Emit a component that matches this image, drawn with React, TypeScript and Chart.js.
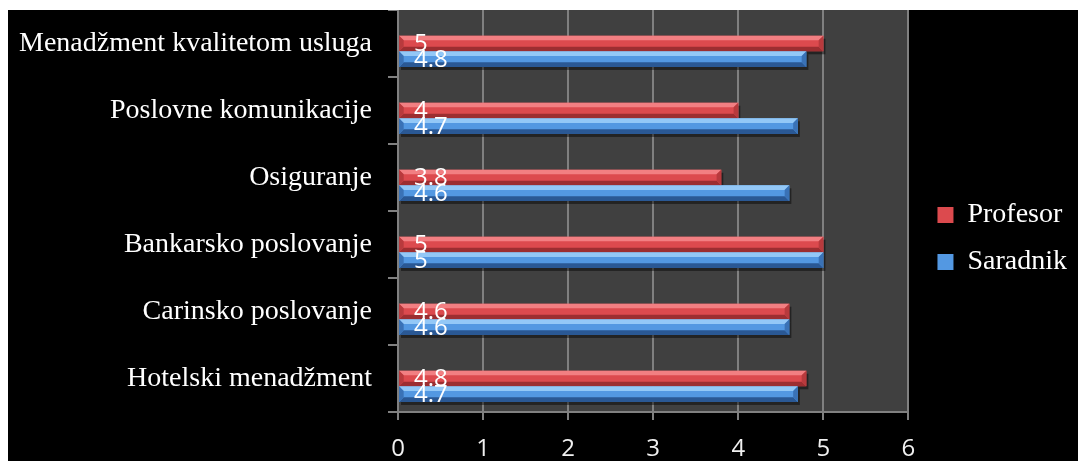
import React, { useEffect, useRef } from 'react';
import { Chart, registerables } from 'chart.js';

Chart.register(...registerables);

const categories = [
  'Menadžment kvalitetom usluga',
  'Poslovne komunikacije',
  'Osiguranje',
  'Bankarsko poslovanje',
  'Carinsko poslovanje',
  'Hotelski menadžment',
];
const seriesNames = ['Profesor', 'Saradnik'];
const profesorValues = [5, 4, 3.8, 5, 4.6, 4.8];
const saradnikValues = [4.8, 4.7, 4.6, 5, 4.6, 4.7];
const xTickValues = [0, 1, 2, 3, 4, 5, 6];

const redPalette = { face: '#DC4A4E', light: '#F27F82', dark: '#9C2E31', side: '#B83A3D' };
const bluePalette = { face: '#5398E2', light: '#93C8F7', dark: '#2A5894', side: '#3A72B6' };

const SERIF = '"Liberation Serif", "Times New Roman", serif';
const SANS = '"Open Sans", "Liberation Sans", sans-serif';

function poly(ctx: CanvasRenderingContext2D, pts: number[][], color: string) {
  ctx.beginPath();
  ctx.moveTo(pts[0][0], pts[0][1]);
  for (let i = 1; i < pts.length; i++) ctx.lineTo(pts[i][0], pts[i][1]);
  ctx.closePath();
  ctx.fillStyle = color;
  ctx.fill();
}

function barBox(el: any) {
  const { x, y, base, height } = el.getProps(['x', 'y', 'base', 'height'], true);
  return { l: Math.min(x, base), r: Math.max(x, base), t: y - height / 2, b: y + height / 2, y, base, height };
}

const plotBg = {
  id: 'plotBg',
  beforeDraw(chart: any) {
    const { ctx, chartArea: a } = chart;
    ctx.save();
    ctx.fillStyle = '#404040';
    ctx.fillRect(a.left, a.top, a.right - a.left, a.bottom - a.top);
    ctx.restore();
  },
};

const bevelBars = {
  id: 'bevelBars',
  beforeDatasetsDraw(chart: any) {
    const ctx = chart.ctx;
    ctx.save();
    chart.data.datasets.forEach((ds: any, di: number) => {
      if (!ds.palette) return;
      chart.getDatasetMeta(di).data.forEach((el: any, i: number) => {
        if (ds.data[i] == null) return;
        const { l, r, t, b } = barBox(el);
        ctx.fillStyle = 'rgba(0,0,0,0.45)';
        ctx.fillRect(l + 2, t + 3, r - l, b - t);
      });
    });
    ctx.restore();
  },
  afterDatasetsDraw(chart: any) {
    const ctx = chart.ctx;
    ctx.save();
    chart.data.datasets.forEach((ds: any, di: number) => {
      const pal = ds.palette;
      if (!pal) return;
      chart.getDatasetMeta(di).data.forEach((el: any, i: number) => {
        if (ds.data[i] == null) return;
        const { l, r, t, b, height } = barBox(el);
        const bw = Math.min(height * 0.3, (r - l) / 2);
        poly(ctx, [[l, t], [r, t], [r - bw, t + bw], [l + bw, t + bw]], pal.light);
        poly(ctx, [[l, b], [r, b], [r - bw, b - bw], [l + bw, b - bw]], pal.dark);
        poly(ctx, [[r, t], [r, b], [r - bw, b - bw], [r - bw, t + bw]], pal.side);
        poly(ctx, [[l, t], [l, b], [l + bw, b - bw], [l + bw, t + bw]], pal.side);
      });
    });
    ctx.fillStyle = '#ffffff';
    ctx.font = `24px ${SANS}`;
    ctx.textAlign = 'left';
    ctx.textBaseline = 'middle';
    chart.data.datasets.forEach((ds: any, di: number) => {
      if (!ds.palette) return;
      chart.getDatasetMeta(di).data.forEach((el: any, i: number) => {
        const v = ds.data[i];
        if (v == null) return;
        const { y, base } = barBox(el);
        ctx.fillText(String(v), base + 15, y + 1);
      });
    });
    ctx.restore();
  },
};

const legendShift = {
  id: 'legendShift',
  afterLayout(chart: any) {
    const lg = chart.legend;
    if (!lg) return;
    lg.left += 10;
    lg.right += 10;
    lg.top += 3;
    lg.bottom += 3;
  },
};

function zeroPadding(s: any) {
  s.paddingTop = 0;
  s.paddingBottom = 0;
  s.paddingLeft = 0;
  s.paddingRight = 0;
}

export default function App() {
  const ref = useRef<HTMLCanvasElement | null>(null);

  useEffect(() => {
    if (!ref.current) return;
    const chart = new Chart(ref.current, {
      type: 'bar',
      data: {
        labels: categories,
        datasets: [
          { label: '', data: categories.map(() => null), backgroundColor: 'transparent' } as any,
          {
            label: seriesNames[0],
            data: profesorValues,
            backgroundColor: redPalette.face,
            borderColor: redPalette.dark,
            borderWidth: 0,
            palette: redPalette,
          } as any,
          {
            label: seriesNames[1],
            data: saradnikValues,
            backgroundColor: bluePalette.face,
            borderColor: bluePalette.dark,
            borderWidth: 0,
            palette: bluePalette,
          } as any,
        ],
      },
      options: {
        indexAxis: 'y',
        responsive: true,
        maintainAspectRatio: false,
        animation: false,
        layout: { padding: { left: 0, right: 11, top: 0, bottom: 0 } },
        datasets: { bar: { categoryPercentage: 0.7, barPercentage: 1 } },
        scales: {
          x: {
            min: 0,
            max: 6,
            afterBuildTicks: (s: any) => {
              s.ticks = xTickValues.map((v) => ({ value: v }));
            },
            ticks: { color: '#f0f0f0', font: { family: SANS, size: 24 }, padding: 15 },
            grid: { color: '#808080', lineWidth: 2, tickLength: 8, drawTicks: true },
            border: { color: '#808080', width: 2 },
            afterFit: (s: any) => {
              s.height = 49;
              zeroPadding(s);
            },
          },
          y: {
            ticks: { color: '#ffffff', font: { family: SERIF, size: 28 }, padding: 16 },
            grid: { offset: true, drawOnChartArea: false, color: '#808080', lineWidth: 2, tickLength: 10 },
            border: { color: '#808080', width: 2 },
            afterFit: (s: any) => {
              s.width = 390;
              zeroPadding(s);
            },
          },
        },
        plugins: {
          legend: {
            position: 'right',
            labels: {
              color: '#ffffff',
              font: { family: SERIF, size: 28 },
              boxWidth: 16,
              boxHeight: 16,
              padding: 19,
              filter: (item: any) => item.text !== '',
            },
          },
          tooltip: { enabled: false },
        },
      } as any,
      plugins: [plotBg, bevelBars, legendShift],
    });
    return () => chart.destroy();
  }, []);

  return (
    <div style={{ position: 'fixed', left: 8, top: 10, width: 1070, height: 451, background: '#000' }}>
      <canvas ref={ref} />
    </div>
  );
}
